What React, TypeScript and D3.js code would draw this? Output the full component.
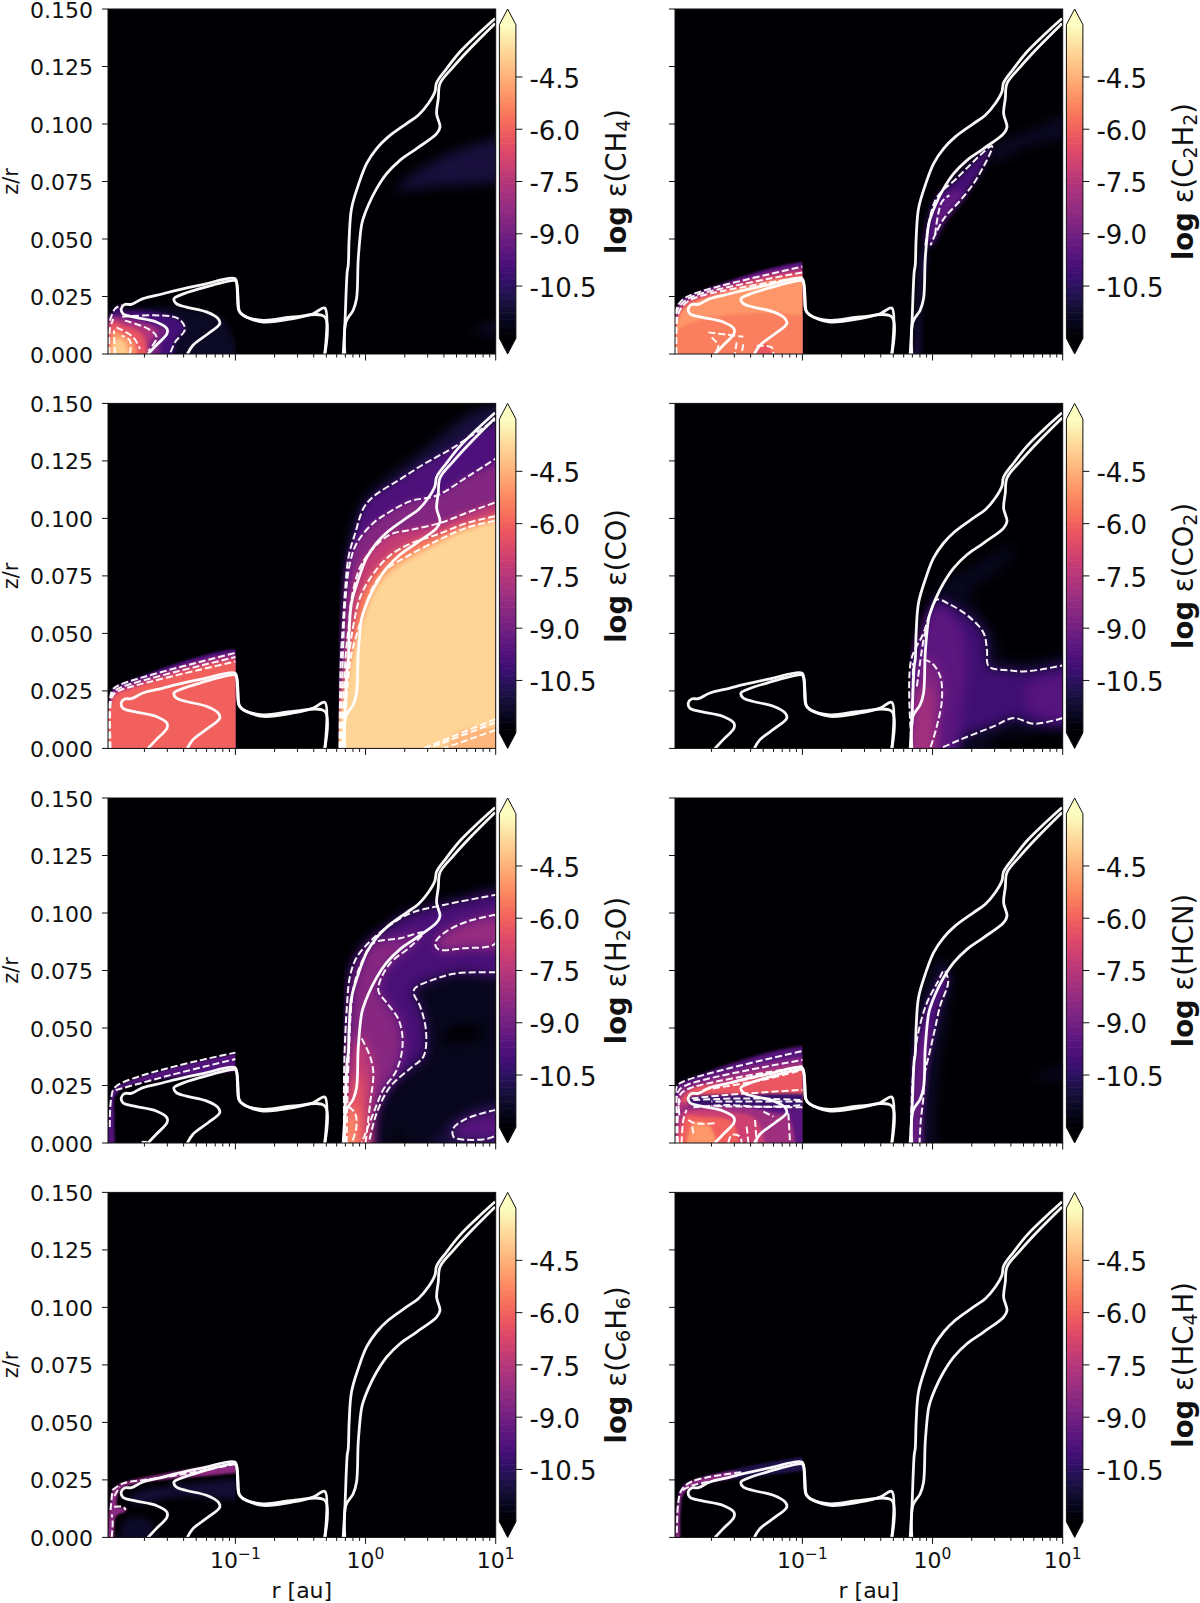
import React from "react";
import * as d3 from "d3";

type P = number[];
type Layer = [number, number, P[]];

// axis ticks
const yTicks = [0, 0.025, 0.05, 0.075, 0.1, 0.125, 0.15];
const cbTicks = [-4.5, -6, -7.5, -9, -10.5];
const decades = [-1, 0, 1];
const decadeLabels = ["\u22121", "0", "1"];

// white solid contours [log10 r, z/r]
const contourA: P[] = [[-1.672,0],[-1.608,.0038],[-1.526,.0088],[-1.526,.011],[-1.608,.0139],[-1.787,.0161],[-1.864,.0175],[-1.877,.0197],[-1.851,.0215],[-1.8,.0216],[-1.71,.0241],[-1.556,.0262],[-1.454,.0277],[-1.249,.0302],[-1.005,.0328],[-.987,.0299],[-.979,.0241],[-.967,.0183],[-.915,.0161],[-.787,.0139],[-.556,.0154],[-.403,.0175],[-.313,.02],[-.313,0]];
const contourB: P[] = [[-1.369,0],[-1.326,.0038],[-1.21,.0088],[-1.12,.0132],[-1.133,.0154],[-1.223,.0183],[-1.377,.0204],[-1.454,.0219],[-1.472,.0241],[-1.428,.0255],[-1.274,.0284],[-1.005,.032],[-.992,.0313],[-.985,.027],[-.974,.019],[-.941,.0168],[-.787,.0146],[-.556,.0161],[-.313,.0161],[-.313,0]];
const contourC: P[] = [[-.172,0],[-.159,.0125],[-.141,.0357],[-.133,.0386],[-.126,.0502],[-.108,.0632],[-.056,.0734],[.008,.0828],[.085,.0893],[.174,.0944],[.315,.1002],[.405,.1038],[.482,.1089],[.533,.114],[.546,.118],[.623,.1241],[.726,.1314],[.854,.1386],[.995,.1459]];
const contourD: P[] = [[-.159,0],[-.151,.0139],[-.095,.019],[-.069,.0241],[-.056,.0415],[-.031,.056],[-.018,.0589],[.021,.0647],[.085,.0719],[.162,.0784],[.264,.0842],[.392,.0893],[.546,.0958],[.572,.0987],[.546,.1045],[.559,.1111],[.572,.1176],[.674,.1248],[.803,.1328],[.995,.1437]];
const solidContours = [contourA, contourB, contourC, contourD];

// CH4
const ch4Inner: Layer[] = [
  [-11.4,0,[[-1.964,0],[-1.964,.0162],[-1.118,.0162],[-1.015,.0073],[-1,0]]],
  [-10,0,[[-1.964,.0145],[-1.926,.0196],[-1.874,.0213],[-1.862,.0203],[-1.9,.0167]]],
  [-10,0,[[-1.964,0],[-1.964,.0162],[-1.451,.0157],[-1.387,.0109],[-1.464,.0051],[-1.503,0]]],
  [-8.9,0,[[-1.96,0],[-1.955,.0162],[-1.785,.0152],[-1.515,.0102],[-1.567,.0058],[-1.644,0]]],
  [-7.6,0,[[-1.955,0],[-1.959,.0152],[-1.836,.0145],[-1.605,.0102],[-1.682,.0029],[-1.695,0]]],
  [-6.3,0,[[-1.959,0],[-1.951,.0138],[-1.862,.0123],[-1.708,.008],[-1.72,0]]],
  [-5,0,[[-1.951,0],[-1.938,.0102],[-1.862,.0087],[-1.772,.0044],[-1.797,0]]],
  [-4,0,[[-1.938,0],[-1.926,.0065],[-1.849,.0051],[-1.823,0]]],
];
const ch4Outer: Layer[] = [
  [-11,0,[[.233,.0711],[.6,.086],[1,.0941],[1,.0797],[.427,.0724]]],
  [-11.2,0,[[.8,.0102],[1,.0146],[1,.0095]]],
];
const ch4Dash: P[][] = [
  [[-1.87,.0162],[-1.45,.0157],[-1.387,.0109],[-1.464,.0051],[-1.503,0]],
  [[-1.849,.0145],[-1.669,.0109],[-1.605,.0073],[-1.669,.0014]],
  [[-1.913,.0116],[-1.785,.0073],[-1.733,.0022]],
  [[-1.969,0],[-1.964,.0109],[-1.938,.0152]],
  [[-1.81,0],[-1.81,.0058],[-1.874,.008]],
  [[-1.926,0],[-1.933,.0102]],
  [[-1.964,.0145],[-1.926,.0196],[-1.874,.0213]],
];

// C2H2
const c2h2Inner: Layer[] = [
  [-9.5,1,[[-1.98,0],[-1.972,.0189],[-1.928,.0232],[-1.838,.0261],[-1,.038],[-1,0]]],
  [-8,1,[[-1.972,0],[-1.962,.0189],[-1.915,.0225],[-1.826,.0254],[-1,.0355],[-1,0]]],
  [-6.6,1,[[-1.967,0],[-1.954,.0174],[-1.903,.0218],[-1.813,.0247],[-1,.0334],[-1,0]]],
  [-5,0,[[-1.962,0],[-1.946,.0167],[-1.89,.021],[-1.8,.0236],[-1,.0312],[-1,0]]],
  [-5.4,0,[[-1.962,0],[-1.962,.01],[-1,.0116],[-1,0]]],
  [-6.2,0,[[-1.364,0],[-1.338,.0036],[-1.26,.0036],[-1.223,0]]],
];
const c2h2Outer: Layer[] = [
  [-11.4,0,[[.47,.09],[.75,.097],[1,.109],[1,.099],[.7,.09],[.47,.083]]],
  [-10.8,0,[[-.14,0],[-.12,.02],[-.07,.047],[-.05,.047],[-.09,.02],[-.12,0]]],
  [-10,0,[[-.055,.0472],[.024,.0672],[.18,.0761],[.457,.0904],[.339,.0762],[.22,.0672],[.08,.0583],[-.016,.0472]]],
  [-9.4,0,[[-.02,.0472],[.05,.0655],[.16,.071],[.25,.0705],[.1,.0585],[.01,.05]]],
];
const c2h2Dash: P[][] = [
  [[-1.723,.0094],[-1.582,.0084],[-1.454,.0075]],
  [[-1.697,.0072],[-1.646,.0036],[-1.672,0]],
  [[-1.505,.0051],[-1.518,0]],
  [[-1.454,.0043],[-1.467,0]],
  [[-1.351,.0036],[-1.236,.0029],[-1.223,0]],
  [[-.055,.0472],[.024,.0672],[.18,.0761],[.457,.0904],[.339,.0762],[.22,.0672],[.08,.0583],[-.016,.0472]],
  [[.02,.052],[.07,.066],[.13,.069]],
];

// CO
const coInner: Layer[] = [
  [-9.8,1,[[-1.972,0],[-1.964,.0212],[-1.944,.0255],[-1.887,.0277],[-1,.0415],[-1,0]]],
  [-8.3,1,[[-1.964,0],[-1.959,.0212],[-1.933,.0248],[-1.874,.0267],[-1,.0397],[-1,0]]],
  [-7,1,[[-1.959,0],[-1.954,.0212],[-1.926,.0241],[-1.862,.0258],[-1,.0378],[-1,0]]],
  [-6,0,[[-1.954,0],[-1.949,.0204],[-1.913,.0233],[-1.836,.0252],[-1,.0361],[-1,0]]],
];
const coOuter: Layer[] = [
  [-11,0,[[-.21,0],[-.195,.0385],[-.17,.0705],[-.145,.0835],[-.095,.0965],[-.015,.108],[.11,.115],[.32,.124],[.575,.1355],[.83,.146],[1,.15],[1,0]]],
  [-9.8,1,[[-.2,0],[-.19,.0385],[-.175,.053],[-.155,.0705],[-.13,.0835],[-.08,.0935],[-.015,.1045],[.06,.1095],[.265,.117],[.445,.1235],[.65,.13],[.83,.1365],[1,.143],[1,0]]],
  [-8.6,1,[[-.19,0],[-.175,.0385],[-.155,.0645],[-.12,.0805],[-.065,.0895],[.06,.098],[.19,.103],[.345,.1075],[.55,.11],[.78,.118],[1,.126],[1,0]]],
  [-7.2,1,[[-.18,0],[-.155,.0385],[-.13,.053],[-.105,.066],[-.04,.079],[.06,.087],[.19,.093],[.345,.095],[.575,.098],[.78,.1025],[1,.107],[1,.008],[.6,0]]],
  [-5.5,1,[[-.175,0],[-.13,.0385],[-.09,.0545],[-.04,.066],[.06,.076],[.19,.084],[.345,.089],[.55,.093],[.78,.098],[1,.101],[1,.0113],[.485,0]]],
  [-4.4,1,[[-.17,0],[-.115,.039],[-.065,.05],[-.015,.059],[.06,.0705],[.165,.078],[.32,.0835],[.575,.091],[.78,.096],[1,.099],[1,.0128],[.445,0]]],
  [-3.8,0,[[-.165,0],[-.105,.037],[-.055,.047],[-.005,.057],[.075,.068],[.19,.076],[.345,.082],[.575,.089],[.78,.0945],[1,.0975],[1,.0135],[.7,.0065],[.42,0]]],
];

// CO2
const co2Outer: Layer[] = [
  [-11.5,0,[[.02,.0661],[.11,.0734],[.264,.0777],[.623,.0879],[.623,.085],[.418,.0734],[.29,.069],[.469,.0502],[.546,.0386],[.726,.0378],[1,.04],[1,.0081],[.803,.0067],[.469,.003],[.315,0],[.033,0]]],
  [-10.1,1,[[-.159,0],[-.167,.0378],[-.069,.0502],[-.018,.0589],[.033,.0647],[.136,.0625],[.277,.0574],[.392,.0502],[.418,.0429],[.431,.0357],[.597,.0339],[.726,.0335],[1,.0361],[1,.0132],[.777,.0107],[.623,.0132],[.469,.0096],[.213,.0038],[.059,0]]],
  [-9.5,0,[[-.146,0],[-.146,.0357],[.033,.0618],[.213,.0531],[.264,.0357],[.213,.0139],[.085,0]]],
  [-9.6,0,[[.726,.027],[1,.0299],[1,.0154],[.777,.0154]]],
  [-8.6,0,[[-.159,0],[-.159,.0125],[-.121,.0241],[-.069,.0386],[-.005,.0371],[.059,.0313],[.072,.0212],[.033,.0096],[-.018,0]]],
  [-7.9,0,[[-.154,0],[-.133,.0168],[-.095,.027],[-.018,.0255],[.008,.0168],[-.044,0]]],
];
const co2Dash: P[][] = [
  [[-.069,.0386],[-.005,.0371],[.059,.0313],[.072,.0212],[.033,.0096],[-.018,0]],
  [[-.12,.027],[-.069,.0473],[-.044,.053]],
  [[-.155,.01],[-.15,.037]],
];

// H2O
const h2oInner: Layer[] = [
  [-9.7,0,[[-1.965,0],[-1.96,.0187],[-1.925,.0238],[-1,.0393],[-1,.0349],[-1.9,.0223],[-1.93,.01],[-1.925,0]]],
];
const h2oOuter: Layer[] = [
  [-11.5,0,[[-.195,0],[-.175,.036],[-.145,.058],[-.095,.081],[.06,.0905],[.32,.101],[.6,.1057],[1,.11],[1,0],[.395,0],[.255,.007],[.14,0]]],
  [-12,0,[[.575,.0448],[.7,.0513],[.88,.0506],[.905,.0463],[.7,.0434]]],
  [-11,0,[[.42,0],[.65,.0086],[1,.0173],[1,0]]],
  [-9.9,1,[[-.165,0],[-.165,.0303],[-.155,.0477],[-.145,.0579],[-.12,.0724],[-.065,.081],[.06,.089],[.19,.0948],[.345,.0999],[.6,.1035],[1,.1079],[1,.0742],[.7,.0738],[.55,.0716],[.38,.0673],[.37,.0651],[.42,.0593],[.465,.0484],[.445,.0376],[.345,.0325],[.19,.0245],[.085,.0129],[.025,0]]],
  [-8.5,1,[[-.145,0],[-.13,.0361],[-.09,.068],[-.015,.0803],[.06,.0869],[.265,.089],[.445,.0915],[.345,.0854],[.19,.0782],[.105,.0695],[.1,.0658],[.165,.0608],[.255,.0535],[.285,.0434],[.24,.0318],[.135,.0231],[.06,.0129],[-.03,0]]],
  [-7.2,0,[[-.15,0],[-.125,.0289],[-.065,.0455],[-.03,.0455],[.035,.0376],[.06,.0303],[.035,.0173],[0,0]]],
  [-6.2,0,[[-.15,0],[-.12,.0187],[-.065,.0303],[-.03,.0274],[-.015,.0187],[-.04,0]]],
  [-5,0,[[-.155,0],[-.13,.0158],[-.08,.0129],[-.07,.0071],[-.105,0]]],
  [-8.2,2,[[1,.0992],[.78,.0963],[.6,.0912],[.535,.0869],[.56,.0842],[.755,.0847],[1,.0869]]],
  [-9.6,2,[[1,.0144],[.78,.0107],[.675,.0064],[.675,.0028],[.73,.0016],[1,.0035]]],
];
const h2oDash: P[][] = [
  [[-1.965,.007],[-1.955,.019],[-1.92,.0245],[-1,.0393]],
  [[-1.92,.023],[-1.5,.0295],[-1,.0365]],
  [[-1.72,.0005],[-1.68,.0005]],
  [[-.03,.0455],[.035,.0376],[.06,.0303],[.035,.0173],[0,0]],
  [[-.13,.0158],[-.08,.0129],[-.07,.0071],[-.105,0]],
];

// HCN
const hcnInner: Layer[] = [
  [-9.6,1,[[-1.97,0],[-1.965,.0245],[-1.915,.0267],[-1,.04],[-1,0]]],
  [-8.6,1,[[-1.955,0],[-1.955,.0223],[-1.89,.0252],[-1,.0361],[-1,.0155],[-1.7,.016]]],
  [-7.6,1,[[-1.945,.012],[-1.94,.0209],[-1.865,.0238],[-1,.0332],[-1,.018],[-1.7,.018]]],
  [-6.2,0,[[-1.93,.018],[-1.838,.0238],[-1.582,.026],[-1,.031],[-1,.0205],[-1.6,.021]]],
  [-10.3,0,[[-1.877,.0194],[-1.582,.0209],[-1,.019],[-1,.0155],[-1.428,.0161],[-1.838,.0155]]],
  [-9.5,0,[[-1.954,0],[-1.95,.013],[-1.108,.013],[-1,.012],[-1,0]]],
  [-8,0,[[-1.954,0],[-1.941,.0144],[-1.864,.0155],[-1.428,.0155],[-1.21,.0129],[-1.108,.0115],[-1.108,0]]],
  [-7,0,[[-1.941,0],[-1.915,.0129],[-1.838,.0141],[-1.582,.0136],[-1.351,.01],[-1.326,0]]],
  [-6,0,[[-1.928,0],[-1.89,.0115],[-1.787,.0115],[-1.531,.0086],[-1.544,0]]],
  [-5,0,[[-1.877,0],[-1.838,.0086],[-1.71,.0072],[-1.646,0]]],
];
const hcnOuter: Layer[] = [
  [-11.3,0,[[-.19,0],[-.17,.03],[-.13,.05],[-.04,.07],[.06,.08],[.14,.075],[.12,.06],[.06,.04],[.02,.02],[-.03,0]]],
  [-11.4,0,[[.75,.029],[1,.034],[1,.03],[.85,.028]]],
  [-9.8,1,[[-.17,0],[-.15,.03],[-.12,.045],[-.05,.06],[.04,.07],[.09,.075],[.12,.07],[.06,.06],[.02,.05],[-.02,.04],[-.06,.03],[-.07,.02],[-.09,.01],[-.1,0]]],
  [-9.2,0,[[-.15,0],[-.13,.03],[-.08,.045],[-.02,.052],[-.05,.032],[-.08,.018],[-.115,0]]],
];
const hcnDash: P[][] = [
  [[-1.962,0],[-1.954,.0144],[-1.941,.0187]],
  [[-1.928,0],[-1.915,.01],[-1.89,.0144]],
  [[-1.877,.01],[-1.826,.0086],[-1.659,.0086]],
  [[-1.838,.0042],[-1.851,.0086]],
  [[-1.569,0],[-1.544,.0035],[-1.479,.0028],[-1.467,0]],
  [[-1.428,.0071],[-1.415,0]],
  [[-1.364,.01],[-1.351,0]],
  [[-1.108,.0129],[-1.095,0]],
  [[-1.3,.0136],[-1.223,.0115]],
  [[-1.851,.0194],[-1.582,.0209],[-1,.0231]],
  [[-1.838,.0187],[-1.454,.0194],[-1,.0187]],
  [[-1.838,.0155],[-1.582,.0165],[-1.326,.0158],[-1.108,.0161],[-1,.0165]],
  [[-1.762,.0231],[-1.3,.0275],[-1,.0318]],
  [[-1.55,.026],[-1,.0335]],
];

// C6H6
const c6h6Inner: Layer[] = [
  [-11.1,0,[[-1.795,.0184],[-1.438,.0228],[-1,.0235],[-1,.0177],[-1.438,.0177],[-1.795,.0148]]],
  [-11.3,0,[[-1.85,0],[-1.85,.0075],[-1.65,.0068],[-1.65,0]]],
  [-8.4,0,[[-1.973,0],[-1.959,.0162],[-1.932,.0213],[-1.863,.0238],[-1,.0325],[-1,.0307],[-1.863,.0218],[-1.904,.0184],[-1.904,.0133],[-1.836,.0126],[-1.849,.0112],[-1.918,.009],[-1.926,0]]],
];
const c6h6Dash: P[][] = [
  [[-1.945,.0206],[-1.863,.0235],[-1.712,.0249],[-1.438,.0271],[-1,.0319]],
  [[-1.959,.0119],[-1.945,.0206]],
  [[-1.95,0],[-1.943,.0065],[-1.95,.01]],
  [[-1.932,.0133],[-1.863,.0133],[-1.843,.0119]],
  [[-1.93,.018],[-1.89,.022]],
];

// HC4H
const hc4hInner: Layer[] = [
  [-10.8,0,[[-1.96,0],[-1.93,.021],[-1.85,.0245],[-1,.0355],[-1,.0325],[-1.85,.022],[-1.92,.0185],[-1.94,.01],[-1.95,0]]],
  [-8.4,0,[[-1.97,0],[-1.96,.0145],[-1.93,.021],[-1.85,.0245],[-1.5,.0285],[-1.5,.027],[-1.85,.022],[-1.92,.0185],[-1.94,.01],[-1.95,0]]],
];
const hc4hDash: P[][] = [
  [[-1.965,.002],[-1.955,.0145],[-1.93,.0205],[-1.85,.0243],[-1.45,.0285]],
  [[-1.92,.0205],[-1.85,.0225],[-1.6,.0255]],
];

const speciesNames = [
  [["CH",0],["4",1]],
  [["C",0],["2",1],["H",0],["2",1]],
  [["CO",0]],
  [["CO",0],["2",1]],
  [["H",0],["2",1],["O",0]],
  [["HCN",0]],
  [["C",0],["6",1],["H",0],["6",1]],
  [["HC",0],["4",1],["H",0]],
] as [string, number][][];

const innerLayers: Layer[][] = [ch4Inner, c2h2Inner, coInner, [], h2oInner, hcnInner, c6h6Inner, hc4hInner];
const outerLayers: Layer[][] = [ch4Outer, c2h2Outer, coOuter, co2Outer, h2oOuter, hcnOuter, [], []];
const extraDashes: P[][][] = [ch4Dash, c2h2Dash, [], co2Dash, h2oDash, hcnDash, c6h6Dash, hc4hDash];
const innerSoftness = [2, 1, 1, 1, 1, 1.5, 1, 1];
const outerSoftness = [6, 3, 3, 6, 6, 3, 1, 1];
const softLevels = [1, 1.5, 2, 3, 6];
const outerStart = [-0.23, -0.17, -0.205, -0.172, -0.17, -0.175, -0.23, -0.23];

const colLeft = [108, 675];
const rowTop = [9, 403.4, 798, 1192.4];
const axW = 387.7;
const axH = 345;
const font = "'DejaVu Sans', sans-serif";
const ink = "#111";

const colour = (v: number) => d3.interpolateMagma(Math.max(0, Math.min(1, (v + 12) / 9)));

function dashRuns(layer: Layer): P[][] {
  const [, flag, pts] = layer;
  if (!flag) return [];
  if (flag === 2) return [pts.concat([pts[0]])];
  const runs: P[][] = [];
  let cur: P[] = [pts[0]];
  for (let i = 1; i < pts.length; i++) {
    const a = pts[i - 1], b = pts[i];
    const edge = (a[1] === 0 && b[1] === 0) || (a[0] >= 1 && b[0] >= 1) || (a[0] === -1 && b[0] === -1);
    if (edge) {
      if (cur.length > 1) runs.push(cur);
      cur = [b];
    } else cur.push(b);
  }
  if (cur.length > 1) runs.push(cur);
  return runs;
}

function Panel({ idx }: { idx: number }) {
  const col = idx % 2, row = Math.floor(idx / 2);
  const left = colLeft[col], top = rowTop[row], right = left + axW, bottom = top + axH;
  const x = d3.scaleLog().domain([0.0105, 10]).range([left, right]);
  const y = d3.scaleLinear().domain([0, 0.15]).range([bottom, top]);
  const X = (l: number) => x(Math.pow(10, l));
  const line = d3.line<P>().x(d => X(d[0])).y(d => y(d[1])).curve(d3.curveCatmullRom.alpha(0.5));
  const grow = (p: P, inner: boolean): P => [
    inner ? (p[0] >= -1 ? -0.75 : p[0]) : (p[0] >= 1 ? 1.3 : p[0]),
    p[1] <= 0 ? -0.02 : p[1],
  ];
  const poly = d3.line<P>().x(d => X(d[0])).y(d => y(d[1])).curve(d3.curveCatmullRomClosed.alpha(0.5));
  const softOf = (v: number, inner: boolean) => {
    let s = inner ? innerSoftness[idx] : outerSoftness[idx];
    if (v <= -11) s = inner ? 3 : 6;
    if (idx === 2 && !inner && v > -5) s = 2;
    return s;
  };
  const blob = (l: Layer, inner: boolean, i: number) => (
    <path key={i} d={poly(l[2].map(p => grow(p, inner)))!} fill={colour(l[0])}
      filter={`url(#soft${String(softOf(l[0], inner)).replace(".", "_")})`} />
  );
  const inL = innerLayers[idx], outL = outerLayers[idx];
  const dashes = [...inL, ...outL].flatMap(dashRuns).concat(extraDashes[idx]);
  const minor: number[] = [];
  for (let d = -2; d < 1; d++) for (let m = 2; m < 10; m++) {
    const v = m * Math.pow(10, d);
    if (v >= 0.0105 && v <= 10) minor.push(v);
  }
  const cbTop = top + axH / 22, cbBottom = bottom - axH / 22;
  const cy = d3.scaleLinear().domain([-12, -3]).range([cbBottom, cbTop]);
  const cbLeft = right + 3.7, cbRight = cbLeft + 16.5, cbMid = (cbLeft + cbRight) / 2;
  const slices = d3.range(-12, -3, 0.05);
  const labX = cbRight + 110, labY = top + axH / 2;
  const oS = X(outerStart[idx]);
  const id = `p${idx}`;
  return (
    <g fontFamily={font} fill={ink}>
      <defs>
        <clipPath id={id + "a"}><rect x={left} y={top} width={axW} height={axH} /></clipPath>
        <clipPath id={id + "i"}><rect x={left} y={top} width={X(-1) - left} height={axH} /></clipPath>
        <clipPath id={id + "o"}><rect x={oS} y={top} width={right - oS} height={axH} /></clipPath>
      </defs>
      <rect x={left} y={top} width={axW} height={axH} fill={colour(-12)} />
      <g clipPath={`url(#${id}i)`}>{inL.map((l, i) => blob(l, true, i))}</g>
      <g clipPath={`url(#${id}o)`}>{outL.map((l, i) => blob(l, false, i))}</g>
      <g clipPath={`url(#${id}a)`} fill="none">
        {dashes.map((d, i) => (
          <path key={i} d={line(d)!} stroke="#fff" strokeWidth={2} strokeDasharray="7 3" opacity={0.95} />
        ))}
        {solidContours.map((d, i) => (
          <path key={i} d={line(d)!} stroke="#fff" strokeWidth={2.8} strokeLinejoin="round" opacity={0.97} />
        ))}
      </g>
      <rect x={left} y={top} width={axW} height={axH} fill="none" stroke={ink} strokeWidth={1} />
      {yTicks.map(t => (
        <g key={t}>
          <line x1={left - 6} x2={left} y1={y(t)} y2={y(t)} stroke={ink} />
          {col === 0 && (
            <text x={left - 15} y={y(t) + 8.5} fontSize={22} textAnchor="end">{t.toFixed(3)}</text>
          )}
        </g>
      ))}
      {decades.map((d, i) => (
        <g key={d}>
          <line x1={X(d)} x2={X(d)} y1={bottom} y2={bottom + 6.5} stroke={ink} />
          {row === 3 && (
            <text x={X(d)} y={bottom + 31} fontSize={22} textAnchor="middle">
              10<tspan dy={-9} fontSize={15.5}>{decadeLabels[i]}</tspan>
            </text>
          )}
        </g>
      ))}
      {minor.map(v => <line key={v} x1={x(v)} x2={x(v)} y1={bottom} y2={bottom + 3.5} stroke={ink} />)}
      {col === 0 && (
        <text transform={`translate(18,${labY}) rotate(-90)`} fontSize={21} textAnchor="middle">z/r</text>
      )}
      {row === 3 && (
        <text x={(left + right) / 2} y={bottom + 61} fontSize={22} textAnchor="middle">r [au]</text>
      )}
      {slices.map(v => (
        <rect key={v} x={cbLeft} width={cbRight - cbLeft} y={cy(v + 0.05)} height={cy(v) - cy(v + 0.05) + 0.6}
          fill={colour(v + 0.025)} />
      ))}
      <path d={`M${cbLeft},${cbTop}L${cbMid},${top}L${cbRight},${cbTop}Z`} fill={colour(-3)} />
      <path d={`M${cbLeft},${cbBottom}L${cbMid},${bottom}L${cbRight},${cbBottom}Z`} fill={colour(-12)} />
      <path d={`M${cbLeft},${cbTop}L${cbMid},${top}L${cbRight},${cbTop}L${cbRight},${cbBottom}L${cbMid},${bottom}L${cbLeft},${cbBottom}Z`}
        fill="none" stroke={ink} strokeWidth={1} />
      {cbTicks.map(t => (
        <g key={t}>
          <line x1={cbRight} x2={cbRight + 6.5} y1={cy(t)} y2={cy(t)} stroke={ink} />
          <text x={cbRight + 13.5} y={cy(t) + 10.7} fontSize={26}>{t.toFixed(1)}</text>
        </g>
      ))}
      <text transform={`translate(${labX},${labY}) rotate(-90)`} fontSize={27.5} textAnchor="middle">
        <tspan fontWeight="bold">log</tspan>
        <tspan> ε(</tspan>
        {speciesNames[idx].map(([s, sub], i, arr) => {
          const prevSub = i > 0 && arr[i - 1][1];
          const dy = sub ? 4 : prevSub ? -4 : 0;
          return <tspan key={i} dy={dy} fontSize={sub ? 19 : 27.5}>{s}</tspan>;
        })}
        <tspan dy={speciesNames[idx][speciesNames[idx].length - 1][1] ? -4 : 0}>)</tspan>
      </text>
    </g>
  );
}

export default function App() {
  return (
    <svg width={1200} height={1603} viewBox="0 0 1200 1603"
      style={{ position: "absolute", left: 0, top: 0, display: "block", background: "#fff" }}>
      <defs>
        {softLevels.map(s => (
          <filter key={s} id={`soft${String(s).replace(".", "_")}`} filterUnits="userSpaceOnUse"
            x={0} y={0} width={1200} height={1603} colorInterpolationFilters="sRGB">
            <feGaussianBlur stdDeviation={s} />
          </filter>
        ))}
      </defs>
      {d3.range(8).map(i => <Panel key={i} idx={i} />)}
    </svg>
  );
}
